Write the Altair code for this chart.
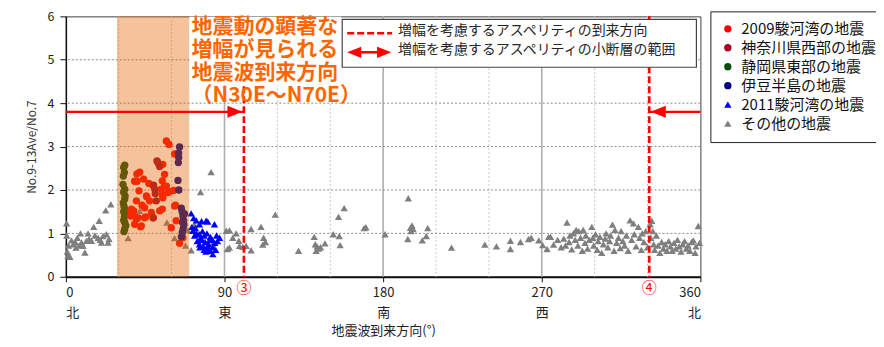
import altair as alt
import pandas as pd

SERIES = ["2009駿河湾の地震", "神奈川県西部の地震", "静岡県東部の地震",
          "伊豆半島の地震", "2011駿河湾の地震", "その他の地震"]
COLORS = ["#FF0000", "#A50021", "#0B4D0B", "#000080", "#0000FF", "#7F7F7F"]
SHAPES = ["circle", "circle", "circle", "circle", "triangle-up", "triangle-up"]

X_TICKS = [0, 90, 180, 270, 360]
DIRS = ["北", "東", "南", "西", "北"]
Y_TICKS = [0, 1, 2, 3, 4, 5, 6]
GRID_MINOR_X = [30, 60, 120, 150, 210, 240, 300, 330]
GRID_MAJOR_X = [90, 180, 270]
GRID_Y = [1, 2, 3, 4, 5]

SHADE = [29, 70]
ASPERITY_DIR = [101, 331]
ASPERITY_LABELS = ["③", "④"]
ARROW_Y = 3.8
ARROW_RANGES = [[0, 101], [331, 360]]

NOTE_LINES = ["地震動の顕著な", "増幅が見られる", "地震波到来方向", "（N30E～N70E）"]
INNER_LEGEND = ["増幅を考慮するアスペリティの到来方向", "増幅を考慮するアスペリティの小断層の範囲"]

# ---- data ----
other_deg = [0.4, 0.5, 0.8, 1.2, 2.3, 1.5, 3.2, 4.2, 5.3, 5.7, 6.5, 7.5, 8.3, 8.9, 9.8, 10.8,
             11.7, 12.6, 13.2, 14.5, 15.8, 16.5, 18.3, 18.9, 19.5, 20.2, 21.1, 22.6, 23, 23.9,
             24.5, 25.5,
             35.3, 41.9, 50.9, 57.3, 61.7, 67.9, 69.2,
             73, 71.1, 74.9, 83.3, 82.4, 76.4, 91, 91.7,
             92.8, 92.8, 94.7, 96.6, 98.1, 98.5, 100.3, 102.3, 105.1, 105.1, 110.7, 112.2, 113.2,
             111.7, 118.8, 132, 140.9, 141.5, 142.5, 143.5, 142, 144.5, 147, 151.7, 154.7, 157.9,
             155.1, 155.6, 169.2, 170.2, 181.1,
             194.3, 195.5, 196.4, 197, 195.8, 194, 202.2, 204.5, 205.3, 218.8, 237.7, 244.3,
             252.2, 252.2, 257.9, 262.5, 264, 268.3,
             270.5, 273.9, 275, 273, 276.7, 279, 281, 282.5, 283.5, 284.3, 285.5, 286, 287, 288,
             289, 289.5, 290.5, 291, 292, 293, 293.5, 294.5, 295, 296, 297, 298.4, 299, 299.5,
             300.5, 301.5, 302, 303, 304, 305, 306, 306.5, 307.5, 308.5, 309, 310.1, 311, 311.5,
             312.5, 313.5, 314.5, 315, 316, 317, 318, 319, 320.1, 321, 322, 322.5, 323.5, 324.8,
             325.5, 326.5, 327, 328, 329, 330, 331.5, 331.8, 332.4, 333, 333.5, 334, 335, 336,
             337, 338, 339, 340, 341, 342, 343, 344, 345, 346, 347, 348, 349, 350, 351, 352, 353,
             354, 355, 356, 357, 357.5, 358.8, 359.5]
other_val = [1.23, 0.95, 0.58, 0.48, 0.46, 0.72, 0.84, 0.75, 0.8, 0.67, 0.9, 0.72, 1.0, 0.79, 0.71,
             0.56, 0.83, 1.0, 0.87, 0.83, 1.15, 0.95, 0.9, 1.29, 0.85, 0.79, 0.94, 1.53, 0.98,
             0.79, 0.87, 1.67,
             0.89, 1.52, 1.76, 1.25, 0.89, 0.72, 1.07,
             1.2, 0.61, 0.98, 0.76, 2.41, 1.95, 1.06, 0.64,
             0.67, 1.07, 0.9, 1.0, 0.83, 0.71, 0.69, 0.71, 0.61, 1.10, 1.15, 0.9, 0.8,
             0.74, 1.43, 0.6, 0.92, 0.75, 0.7, 0.65, 0.6, 0.68, 0.77, 0.98, 1.38, 1.58,
             0.94, 0.73, 1.12, 1.14, 0.98,
             1.81, 1.13, 1.18, 1.10, 1.05, 0.87, 0.84, 0.94, 1.12, 0.67, 0.74, 0.7,
             0.83, 0.64, 0.8, 0.87, 0.9, 0.84,
             0.73, 0.92, 0.92, 0.64, 0.74, 0.85, 0.68, 0.88, 0.72, 1.25, 0.8, 0.95, 0.63, 1.0,
             0.85, 1.08, 0.72, 1.05, 0.9, 0.6, 1.08, 0.78, 0.95, 0.65, 0.85, 1.15, 0.9, 0.72,
             0.98, 0.62, 0.82, 0.92, 0.55, 0.75, 0.88, 1.0, 0.68, 0.82, 0.95, 1.2, 0.6, 1.08,
             0.78, 0.9, 0.66, 1.05, 0.82, 0.72, 0.95, 0.6, 1.3, 0.85, 1.23, 0.98, 0.7, 1.15,
             0.9, 0.62, 1.0, 0.8, 1.05, 0.68, 1.21, 0.9, 1.29, 1.05, 0.75, 0.62, 0.95, 0.72,
             0.55, 0.8, 0.65, 0.75, 0.6, 0.82, 0.7, 0.6, 0.78, 0.65, 0.85, 0.7, 0.58, 0.75, 0.82,
             0.65, 0.72, 0.6, 0.8, 0.84, 0.55, 0.7, 1.17, 0.78]

s2011_deg = [71.1, 72.5, 74, 75.8, 77, 79.6, 80.5, 84.3, 72, 73.5, 75.8, 77.5, 78.5, 80, 82, 87.2,
             86, 75.8, 77, 78, 79, 80, 81, 82, 83.4, 83.4, 84.5, 85, 76.5, 74.5, 73, 81.5, 79.5,
             78.5, 83, 80.5, 76, 85.5, 71.5, 74]
s2011_val = [1.46, 1.35, 1.30, 1.21, 1.28, 1.29, 1.27, 1.21, 1.06, 1.12, 0.98, 1.05, 0.95, 1.0,
             0.92, 0.9, 0.82, 0.75, 0.85, 0.70, 0.80, 0.65, 0.75, 0.60, 0.52, 0.68, 0.78, 0.62,
             0.90, 0.82, 0.95, 0.85, 0.58, 0.62, 0.85, 0.70, 0.68, 0.95, 1.15, 1.0]

shizuoka_deg = [33.4, 32.8, 33.2, 32.6, 32.4, 33.4, 32.8, 33.6, 33.4, 32.6, 33.0, 33.4, 32.8,
                34.0, 33.2, 32.8, 33.4, 34.0, 33.4, 33.0]
shizuoka_val = [2.57, 2.52, 2.40, 2.32, 2.13, 2.02, 1.95, 1.86, 1.79, 1.70, 1.62, 1.56, 1.50,
                1.44, 1.38, 1.30, 1.25, 1.18, 1.10, 1.04]

s2009_deg = [57, 58.5, 61.7, 55, 56, 54.7, 56, 58.9, 61.1, 62.2, 62.6, 54.7, 66.4, 40.3, 41.9,
             44.1, 39, 47.1, 49.4, 41.5, 45.7, 40, 43.2, 38.5, 37, 36.8, 40, 42.8, 39, 45.3, 53.2,
             54.7, 54.2, 57.9, 59.8, 49.4, 52.8, 47.5, 44.7, 48.5, 40.4, 38.1, 40.9, 42.3, 44.7,
             55, 57, 61.7, 64.5, 46, 37.2]
s2009_val = [3.13, 3.05, 2.83, 2.59, 2.36, 2.21, 2.09, 1.96, 1.99, 1.65, 1.29, 1.56, 0.90, 2.37,
             2.41, 2.25, 2.2, 2.15, 2.1, 1.98, 1.86, 1.75, 1.65, 1.52, 1.53, 1.40, 1.33, 1.17,
             1.21, 1.38, 1.52, 1.89, 2.02, 1.94, 1.13, 1.36, 2.59, 1.75, 1.59, 1.48, 2.2, 1.44,
             1.36, 1.15, 1.36, 1.82, 2.09, 1.63, 0.77, 1.84, 1.56]

kanagawa_deg = [51.7, 53.2, 52.2, 49.8, 50.4, 50.7, 51.3, 49.6]
kanagawa_val = [2.67, 2.54, 2.63, 2.11, 2.02, 1.92, 1.75, 1.36]

izu_deg = [64.5, 64.0, 64.0, 63.8, 63.6, 64.1, 65.5, 66.0, 66.4, 66.8, 67.0, 66.5, 66.0, 65.5,
           67.3, 66.2]
izu_val = [2.99, 2.85, 2.75, 2.63, 2.22, 2.0, 1.58, 1.50, 1.40, 1.30, 1.20, 1.10, 1.02, 0.92,
           1.45, 1.25]

# draw order: grey first, coloured last
parts = [(SERIES[5], other_deg, other_val), (SERIES[4], s2011_deg, s2011_val),
         (SERIES[2], shizuoka_deg, shizuoka_val), (SERIES[0], s2009_deg, s2009_val),
         (SERIES[1], kanagawa_deg, kanagawa_val), (SERIES[3], izu_deg, izu_val)]
rows = []
for name, ds, vs in parts:
    for d, v in zip(ds, vs):
        rows.append({"series": name, "deg": d, "val": v})
pts = pd.DataFrame(rows)

FONT = "Noto Sans CJK JP"
xs = alt.Scale(domain=[0, 360], nice=False)
ys = alt.Scale(domain=[0, 6], nice=False)
one = alt.Data(values=[{"k": 1}])

label_expr = ("[datum.label, datum.value == 90 ? '東' : datum.value == 180 ? '南' : "
              "datum.value == 270 ? '西' : '北']")

grid_minor = alt.Chart(pd.DataFrame({"deg": GRID_MINOR_X})).mark_rule(
    color="#C8C8C8", strokeDash=[2, 2], strokeWidth=1).encode(x=alt.X("deg:Q", scale=xs))
grid_major = alt.Chart(pd.DataFrame({"deg": GRID_MAJOR_X})).mark_rule(
    color="#AFAFAF", strokeWidth=1.6).encode(x=alt.X("deg:Q", scale=xs))
grid_y = alt.Chart(pd.DataFrame({"val": GRID_Y})).mark_rule(
    color="#8C8C8C", strokeDash=[2, 2], strokeWidth=1).encode(y=alt.Y("val:Q", scale=ys))

legend = alt.Legend(orient="none", legendX=646, legendY=-5, title=None,
                    strokeColor="#222222", fillColor="white", padding=10,
                    labelFont=FONT, labelFontSize=15, labelColor="#111111",
                    symbolSize=36, rowPadding=3, symbolStrokeWidth=0, labelOffset=6)

points = alt.Chart(pts).mark_point(filled=True, opacity=1, strokeWidth=0).encode(
    x=alt.X("deg:Q", scale=xs, title="地震波到来方向(°)",
            axis=alt.Axis(values=X_TICKS, labelExpr=label_expr, grid=False,
                          labelLineHeight=20, labelFont=FONT, labelFontSize=13,
                          labelColor="#222222", labelPadding=5, tickSize=5,
                          tickColor="#111111", domainColor="#111111", domainWidth=2,
                          titleFont=FONT, titleFontSize=13, titleFontWeight="normal",
                          titleColor="#222222", titlePadding=5)),
    y=alt.Y("val:Q", scale=ys, title="No.9-13Ave/No.7",
            axis=alt.Axis(values=Y_TICKS, grid=False, labelFont=FONT, labelFontSize=12.5,
                          labelColor="#222222", labelPadding=6, tickSize=6,
                          tickColor="#111111", domainColor="#111111", domainWidth=1.5,
                          titleFont=FONT, titleFontSize=12, titleFontWeight="normal",
                          titleColor="#333333", titlePadding=8)),
    color=alt.Color("series:N", scale=alt.Scale(domain=SERIES, range=COLORS), legend=legend),
    shape=alt.Shape("series:N", scale=alt.Scale(domain=SERIES, range=SHAPES), legend=legend),
    size=alt.Size("series:N", scale=alt.Scale(domain=SERIES, range=[54, 54, 54, 54, 58, 58]),
                  legend=None),
)

shade = alt.Chart(pd.DataFrame({"a": [SHADE[0]], "b": [SHADE[1]]})).mark_rect(
    color="#E66905", opacity=0.4).encode(
    x=alt.X("a:Q", scale=xs), x2="b:Q", y=alt.value(0), y2=alt.value(261))

dashed = alt.Chart(pd.DataFrame({"deg": ASPERITY_DIR})).mark_rule(
    color="#FF0000", strokeDash=[7, 3], strokeWidth=2.6).encode(
    x=alt.X("deg:Q", scale=xs), y=alt.value(0), y2=alt.value(261))

circ = alt.Chart(pd.DataFrame({"deg": ASPERITY_DIR, "t": ASPERITY_LABELS})).mark_text(
    color="#FF0000", fontSize=15, font=FONT, baseline="middle").encode(
    x=alt.X("deg:Q", scale=xs), y=alt.value(272), text="t:N")

arr_df = pd.DataFrame({"a": [r[0] for r in ARROW_RANGES], "b": [r[1] for r in ARROW_RANGES],
                       "y": [ARROW_Y, ARROW_Y]})
arr_line = alt.Chart(arr_df).mark_rule(color="#FF0000", strokeWidth=2.2).encode(
    x=alt.X("a:Q", scale=xs), x2="b:Q", y=alt.Y("y:Q", scale=ys))
HEAD_R = "M-1,-0.8L1,0L-1,0.8Z"
HEAD_L = "M1,-0.8L-1,0L1,0.8Z"
head_r = alt.Chart(pd.DataFrame({"d": [ARROW_RANGES[0][1]], "y": [ARROW_Y]})).mark_point(
    shape=HEAD_R, filled=True, color="#FF0000", opacity=1, size=225, xOffset=-9).encode(
    x=alt.X("d:Q", scale=xs), y=alt.Y("y:Q", scale=ys))
head_l = alt.Chart(pd.DataFrame({"d": [ARROW_RANGES[1][0]], "y": [ARROW_Y]})).mark_point(
    shape=HEAD_L, filled=True, color="#FF0000", opacity=1, size=225, xOffset=9).encode(
    x=alt.X("d:Q", scale=xs), y=alt.Y("y:Q", scale=ys))

note_bg = alt.Chart(one).mark_rect(color="white").encode(
    x=alt.value(124), x2=alt.value(276), y=alt.value(0.5), y2=alt.value(69))
note = alt.Chart(one).mark_text(
    text=NOTE_LINES, align="left", baseline="top", lineHeight=23, font=FONT,
    fontSize=21, fontWeight="bold", color="#FF6600").encode(x=alt.value(126), y=alt.value(0))

box = alt.Chart(one).mark_rect(fill="white", stroke="#444444", strokeWidth=1.2).encode(
    x=alt.value(277), x2=alt.value(632), y=alt.value(3), y2=alt.value(51))
sample_dash = alt.Chart(one).mark_rule(color="#FF0000", strokeDash=[7, 3], strokeWidth=2.6).encode(
    x=alt.value(282), x2=alt.value(327), y=alt.value(17))
sample_arrow = alt.Chart(one).mark_rule(color="#FF0000", strokeWidth=2.6).encode(
    x=alt.value(290), x2=alt.value(318), y=alt.value(36))
sample_hr = alt.Chart(one).mark_point(shape=HEAD_R, filled=True, color="#FF0000", opacity=1,
                                      size=200).encode(x=alt.value(319), y=alt.value(36))
sample_hl = alt.Chart(one).mark_point(shape=HEAD_L, filled=True, color="#FF0000", opacity=1,
                                      size=200).encode(x=alt.value(289), y=alt.value(36))
inner_text = alt.Chart(one).mark_text(
    text=INNER_LEGEND, align="left", baseline="top", lineHeight=19, font=FONT, fontSize=14,
    color="#262626").encode(x=alt.value(333), y=alt.value(8))

chart = alt.layer(
    grid_minor, grid_major, grid_y, points, shade, dashed, circ, arr_line, head_r, head_l,
    note_bg, note, box, sample_dash, sample_arrow, sample_hr, sample_hl, inner_text
).properties(
    width=636, height=261, autosize="none",
    padding={"left": 58, "top": 8, "right": 176, "bottom": 61},
).configure_view(stroke="#404040", strokeWidth=1)

chart.save("out.html", embed_options={"renderer": "svg", "actions": False})
